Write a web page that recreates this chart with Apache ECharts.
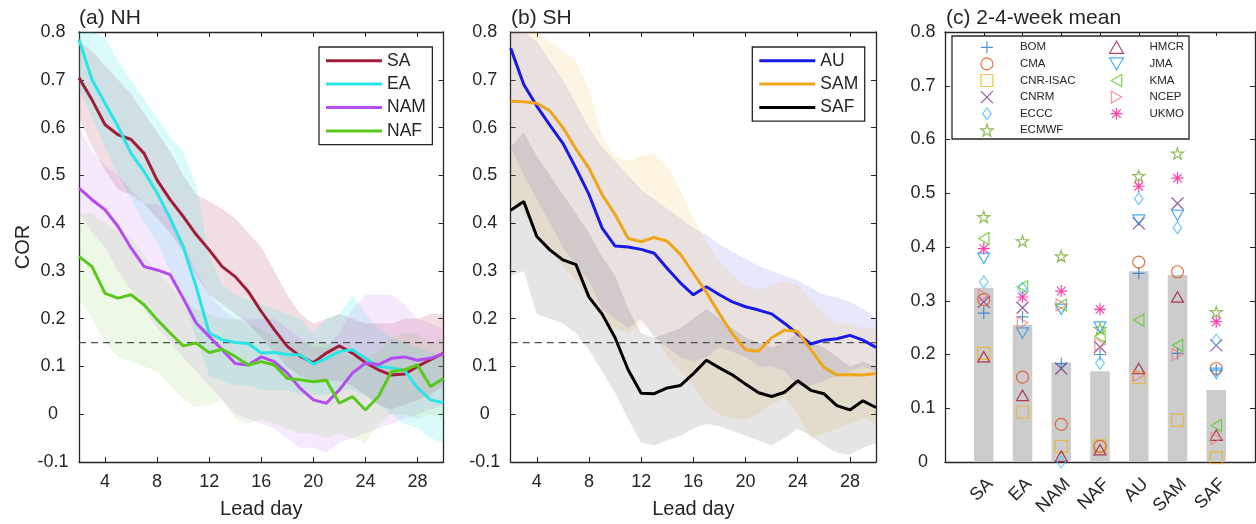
<!DOCTYPE html>
<html><head><meta charset="utf-8">
<script src="https://cdn.jsdelivr.net/npm/echarts@6/dist/echarts.min.js"></script>
<style>html,body{margin:0;padding:0;background:#fff}#c{width:1256px;height:524px}</style>
</head><body><div id="c"></div>
<script>
// ---------- data ----------
const days = [2,3,4,5,6,7,8,9,10,11,12,13,14,15,16,17,18,19,20,21,22,23,24,25,26,27,28,29,30];
const xTicks = [4,8,12,16,20,24,28];
const threshold = 0.15;

// (a) NH
const SA_mean  = [0.704,0.658,0.606,0.585,0.575,0.546,0.490,0.449,0.414,0.376,0.344,0.309,0.288,0.257,0.215,0.177,0.142,0.121,0.108,0.128,0.143,0.128,0.108,0.093,0.082,0.084,0.100,0.114,0.128];
const SA_lo    = [0.62,0.56,0.51,0.47,0.46,0.44,0.41,0.38,0.34,0.29,0.25,0.23,0.21,0.19,0.16,0.13,0.10,0.08,0.07,0.07,0.07,0.06,0.04,0.02,0.01,0.02,0.03,0.04,0.06];
const SA_hi    = [0.78,0.76,0.73,0.70,0.67,0.63,0.59,0.55,0.50,0.46,0.445,0.43,0.41,0.38,0.35,0.30,0.25,0.21,0.19,0.20,0.21,0.20,0.19,0.19,0.19,0.20,0.20,0.21,0.21];
const EA_mean  = [0.784,0.700,0.651,0.602,0.546,0.508,0.463,0.410,0.351,0.267,0.170,0.156,0.150,0.148,0.128,0.129,0.125,0.124,0.105,0.117,0.131,0.135,0.117,0.100,0.097,0.092,0.055,0.030,0.024];
const EA_lo    = [0.68,0.62,0.56,0.50,0.45,0.40,0.36,0.30,0.24,0.16,0.08,0.07,0.06,0.06,0.05,0.05,0.05,0.04,0.04,0.04,0.05,0.05,0.04,0.02,0.00,-0.02,-0.03,-0.05,-0.06];
const EA_hi    = [0.80,0.80,0.79,0.74,0.70,0.66,0.62,0.58,0.55,0.48,0.33,0.27,0.25,0.24,0.23,0.22,0.21,0.20,0.17,0.20,0.21,0.25,0.21,0.18,0.16,0.15,0.14,0.13,0.12];
const NAM_mean = [0.473,0.449,0.428,0.393,0.348,0.309,0.302,0.292,0.243,0.191,0.163,0.135,0.106,0.103,0.120,0.110,0.086,0.054,0.030,0.023,0.051,0.086,0.107,0.104,0.117,0.120,0.113,0.117,0.127];
const NAM_lo   = [0.42,0.38,0.35,0.30,0.26,0.22,0.18,0.15,0.12,0.09,0.06,0.03,0.00,-0.01,-0.02,-0.03,-0.05,-0.07,-0.07,-0.08,-0.06,-0.05,-0.04,-0.03,-0.02,-0.01,0.00,0.01,0.02];
const NAM_hi   = [0.60,0.55,0.52,0.50,0.47,0.44,0.44,0.42,0.36,0.30,0.25,0.22,0.20,0.20,0.20,0.20,0.18,0.16,0.14,0.14,0.17,0.22,0.25,0.25,0.25,0.23,0.20,0.19,0.18];
const NAF_mean = [0.330,0.309,0.253,0.243,0.250,0.229,0.198,0.170,0.143,0.149,0.129,0.136,0.121,0.103,0.110,0.103,0.075,0.072,0.068,0.071,0.023,0.037,0.009,0.037,0.089,0.093,0.103,0.058,0.075];
const NAF_lo   = [0.24,0.20,0.15,0.12,0.11,0.10,0.09,0.06,0.03,0.015,0.02,0.03,-0.01,-0.02,-0.01,-0.02,-0.03,-0.04,-0.04,-0.05,-0.04,-0.05,-0.06,-0.02,0.00,0.00,-0.01,0.00,-0.01];
const NAF_hi   = [0.42,0.42,0.40,0.38,0.37,0.33,0.30,0.27,0.24,0.22,0.21,0.20,0.20,0.19,0.18,0.16,0.15,0.15,0.15,0.15,0.13,0.12,0.12,0.13,0.16,0.17,0.17,0.15,0.16];

// (b) SH
const AU_mean  = [0.766,0.690,0.645,0.605,0.567,0.515,0.460,0.390,0.352,0.350,0.345,0.337,0.305,0.275,0.250,0.267,0.250,0.235,0.225,0.218,0.210,0.190,0.168,0.147,0.155,0.158,0.165,0.155,0.140];
const AU_lo    = [0.56,0.50,0.45,0.40,0.35,0.31,0.28,0.22,0.20,0.18,0.20,0.16,0.14,0.12,0.11,0.12,0.14,0.13,0.12,0.10,0.10,0.09,0.06,0.06,0.07,0.08,0.09,0.10,0.09];
const AU_hi    = [0.80,0.80,0.78,0.74,0.70,0.65,0.60,0.56,0.53,0.50,0.47,0.45,0.43,0.41,0.39,0.375,0.355,0.34,0.325,0.31,0.30,0.29,0.28,0.265,0.25,0.245,0.235,0.22,0.20];
const SAM_mean = [0.655,0.654,0.651,0.635,0.600,0.555,0.515,0.460,0.418,0.368,0.361,0.370,0.362,0.335,0.295,0.255,0.210,0.168,0.135,0.132,0.160,0.176,0.173,0.135,0.098,0.082,0.083,0.082,0.085];
const SAM_lo   = [0.45,0.42,0.38,0.34,0.31,0.28,0.24,0.20,0.18,0.17,0.19,0.17,0.12,0.09,0.06,0.02,0.00,-0.01,-0.01,0.00,0.02,0.035,0.00,-0.05,-0.04,-0.03,-0.02,-0.01,-0.02];
const SAM_hi   = [0.80,0.80,0.80,0.78,0.76,0.74,0.68,0.58,0.54,0.53,0.54,0.545,0.52,0.47,0.41,0.36,0.32,0.29,0.27,0.26,0.27,0.28,0.27,0.24,0.21,0.19,0.19,0.18,0.18];
const SAF_mean = [0.427,0.445,0.372,0.344,0.323,0.313,0.245,0.210,0.160,0.093,0.044,0.043,0.055,0.060,0.085,0.113,0.097,0.082,0.063,0.045,0.037,0.046,0.070,0.050,0.043,0.018,0.009,0.028,0.014];
const SAF_lo   = [0.29,0.30,0.21,0.20,0.19,0.17,0.135,0.09,0.045,-0.01,-0.06,-0.065,-0.055,-0.045,-0.03,-0.02,-0.025,-0.035,-0.045,-0.055,-0.065,-0.05,-0.03,-0.045,-0.065,-0.08,-0.085,-0.07,-0.06];
const SAF_hi   = [0.56,0.59,0.54,0.50,0.46,0.42,0.38,0.33,0.29,0.22,0.17,0.16,0.17,0.18,0.20,0.22,0.20,0.18,0.16,0.15,0.14,0.15,0.17,0.15,0.14,0.12,0.10,0.11,0.10];

// (c) 2-4-week mean
const regions = ['SA','EA','NAM','NAF','AU','SAM','SAF'];
const meanBars = [0.324,0.255,0.185,0.169,0.355,0.348,0.134];
const BOM      = [0.277,0.270,0.183,0.200,0.351,0.202,0.171];
const CMA      = [0.302,0.158,0.070,0.029,0.372,0.354,0.174];
const CNR_ISAC = [0.202,0.093,0.029,0.030,0.157,0.078,0.008];
const CNRM     = [0.298,0.287,0.174,0.214,0.444,0.481,0.217];
const ECCC     = [0.335,0.323,0.000,0.184,0.490,0.436,0.227];
const ECMWF    = [0.456,0.411,0.383,0.248,0.532,0.574,0.279];
const HMCR     = [0.196,0.124,0.011,0.023,0.174,0.307,0.050];
const JMA      = [0.379,0.240,0.284,0.251,0.450,0.459,0.165];
const KMA      = [0.416,0.326,0.292,0.234,0.264,0.217,0.068];
const NCEP     = [0.310,0.259,0.292,0.219,0.161,0.200,0.044];
const UKMO     = [0.397,0.307,0.318,0.284,0.513,0.528,0.261];

// ---------- styling ----------
const FONT = 'Arial, "Liberation Sans", Helvetica, sans-serif';
const AX = '#262626';
const SYM = {
  plus: 'path://M5,0L5,10M0,5L10,5',
  circle: 'path://M10,5A5,5,0,1,1,0,5A5,5,0,1,1,10,5Z',
  square: 'path://M0,0L10,0L10,10L0,10Z',
  cross: 'path://M0,0L10,10M10,0L0,10',
  diamond: 'path://M5,0L10,7L5,14L0,7Z',
  star: 'path://M5,0L6.18,3.62L10,3.62L6.91,5.86L8.09,9.51L5,7.27L1.91,9.51L3.09,5.86L0,3.62L3.82,3.62Z',
  up: 'path://M5,0L10,8.66L0,8.66Z',
  down: 'path://M0,0L10,0L5,8.66Z',
  left: 'path://M0,5L8.66,0L8.66,10Z',
  right: 'path://M0,0L8.66,5L0,10Z',
  aster: 'path://M5,0L5,10M0,5L10,5M1.46,1.46L8.54,8.54M8.54,1.46L1.46,8.54'
};
const models = [
  {name:'BOM', v:BOM, c:'#1F7AC8', s:SYM.plus, z:12},
  {name:'CMA', v:CMA, c:'#D95319', s:SYM.circle, z:12},
  {name:'CNR-ISAC', v:CNR_ISAC, c:'#EDB120', s:SYM.square, z:11},
  {name:'CNRM', v:CNRM, c:'#7E2F8E', s:SYM.cross, z:11},
  {name:'ECCC', v:ECCC, c:'#4DBEEE', s:SYM.diamond, z:14},
  {name:'ECMWF', v:ECMWF, c:'#77AC30', s:SYM.star, z:13},
  {name:'HMCR', v:HMCR, c:'#A2142F', s:SYM.up, z:13},
  {name:'JMA', v:JMA, c:'#1E9BF0', s:SYM.down, z:13},
  {name:'KMA', v:KMA, c:'#55CC22', s:SYM.left, z:13},
  {name:'NCEP', v:NCEP, c:'#F08080', s:SYM.right, z:13},
  {name:'UKMO', v:UKMO, c:'#FF1493', s:SYM.aster, z:13}
];
const catAxis = [''].concat(regions).concat([' ']);
const isReal = (i, v) => regions.indexOf(v) >= 0;

function band(lo, hi, color, alpha, xi, yi) {
  return {
    type: 'custom', xAxisIndex: xi, yAxisIndex: yi, z: 1, silent: true, clip: true,
    data: days.map((d, i) => [d, lo[i], hi[i]]),
    encode: {x: 0, y: [1, 2]},
    renderItem: function (params, api) {
      if (params.dataIndex !== 0) return null;
      const pts = [];
      for (let i = 0; i < days.length; i++) pts.push(api.coord([days[i], hi[i]]));
      for (let i = days.length - 1; i >= 0; i--) pts.push(api.coord([days[i], lo[i]]));
      return {type: 'polygon', shape: {points: pts}, style: {fill: color, opacity: alpha}};
    }
  };
}
function line(name, vals, color, xi, yi) {
  return {type: 'line', name: name, xAxisIndex: xi, yAxisIndex: yi, z: 4, silent: true,
    data: days.map((d, i) => [d, vals[i]]), symbol: 'none',
    lineStyle: {width: 3, color: color}, itemStyle: {color: color}};
}
function dashed(xi, yi) {
  return {type: 'line', xAxisIndex: xi, yAxisIndex: yi, z: 3, silent: true, symbol: 'none',
    data: [[days[0], threshold], [days[days.length - 1], threshold]],
    lineStyle: {width: 1.3, color: '#505050', type: [7, 5]}};
}
function valX(gi, top) {
  return {type: 'value', gridIndex: gi, position: top ? 'top' : 'bottom', min: 2, max: 30,
    axisLine: {onZero: false, lineStyle: {color: AX, width: 1.3}},
    axisTick: {show: true, inside: true, length: 5, customValues: xTicks, lineStyle: {color: AX}},
    axisLabel: {show: !top, customValues: xTicks, color: AX, fontSize: 18, fontFamily: FONT, margin: 11},
    splitLine: {show: false},
    name: top ? '' : 'Lead day', nameLocation: 'middle', nameGap: 37,
    nameTextStyle: {color: AX, fontSize: 20, fontFamily: FONT}};
}
function valY(gi, right, min, name) {
  return {type: 'value', gridIndex: gi, position: right ? 'right' : 'left', min: min, max: 0.8, interval: 0.1,
    axisLine: {show: true, onZero: false, lineStyle: {color: AX, width: 1.3}},
    axisTick: {show: true, inside: true, length: 5, lineStyle: {color: AX}},
    axisLabel: {show: !right, color: AX, fontSize: 18, fontFamily: FONT, align: 'center', margin: min < 0 ? 26 : 22},
    splitLine: {show: false},
    name: name || '', nameLocation: 'middle', nameGap: 42, nameRotate: 90,
    nameTextStyle: {color: AX, fontSize: 20, fontFamily: FONT}};
}
function catX(top) {
  return {type: 'category', gridIndex: 2, position: top ? 'top' : 'bottom', data: catAxis, boundaryGap: false,
    axisLine: {onZero: false, lineStyle: {color: AX, width: 1.3}},
    axisTick: {show: true, inside: true, length: 4, interval: isReal, lineStyle: {color: AX}},
    axisLabel: {show: !top, interval: isReal, rotate: 45, verticalAlign: 'top', margin: 13,
      color: AX, fontSize: 18, fontFamily: FONT},
    splitLine: {show: false}};
}

const lineLegend = (names, left) => ({
  data: names, icon: 'rect', orient: 'vertical', left: left, top: 47, itemWidth: 56, itemHeight: 3, itemGap: 3.4,
  padding: [3.7, 6.5, 3.7, 7], borderColor: AX, borderWidth: 1.3, backgroundColor: '#fff',
  selectedMode: false,
  textStyle: {fontSize: 17.5, lineHeight: 20, color: AX, fontFamily: FONT}
});
const markLegend = (names, left) => ({
  data: names.map(n => ({name: n, icon: models.find(m => m.name === n).s})),
  orient: 'vertical', left: left, top: 40.7, itemWidth: 56, itemHeight: 12, itemGap: 3.4, padding: 0,
  selectedMode: false, itemStyle: {borderWidth: 1.2}, z: 6,
  textStyle: {fontSize: 11.5, lineHeight: 12, color: AX, fontFamily: FONT}
});

const series = [
  band(SA_lo, SA_hi, '#A2142F', 0.14, 0, 0),
  band(EA_lo, EA_hi, '#00E5E5', 0.14, 0, 0),
  band(NAM_lo, NAM_hi, '#B44CF0', 0.12, 0, 0),
  band(NAF_lo, NAF_hi, '#5BC81E', 0.11, 0, 0),
  dashed(0, 0),
  line('SA', SA_mean, '#A01F38', 0, 0),
  line('EA', EA_mean, '#2AE5E8', 0, 0),
  line('NAM', NAM_mean, '#B44CF0', 0, 0),
  line('NAF', NAF_mean, '#5BC81E', 0, 0),
  band(AU_lo, AU_hi, '#3030F0', 0.11, 2, 2),
  band(SAM_lo, SAM_hi, '#EFB030', 0.14, 2, 2),
  band(SAF_lo, SAF_hi, '#000000', 0.1, 2, 2),
  dashed(2, 2),
  line('AU', AU_mean, '#1A1AE6', 2, 2),
  line('SAM', SAM_mean, '#EFA51C', 2, 2),
  line('SAF', SAF_mean, '#000000', 2, 2),
  {type: 'bar', xAxisIndex: 4, yAxisIndex: 4, barWidth: 19.5, z: 2, silent: true,
   data: regions.map((r, i) => [r, meanBars[i]]), itemStyle: {color: '#CCCCCC'}}
].concat(models.map(m => ({
  type: 'scatter', name: m.name, xAxisIndex: 4, yAxisIndex: 4, z: m.z, silent: true,
  symbol: m.s, symbolSize: 12, symbolKeepAspect: true,
  data: regions.map((r, i) => [r, m.v[i]]),
  itemStyle: {color: 'rgba(0,0,0,0)', borderColor: m.c, borderWidth: 1.2}
})));

const option = {
  animation: false,
  textStyle: {fontFamily: FONT},
  title: [
    {text: '(a) NH', left: 79, top: 8, padding: 0, textStyle: {fontSize: 21, fontWeight: 'normal', color: AX, fontFamily: FONT}},
    {text: '(b) SH', left: 511, top: 8, padding: 0, textStyle: {fontSize: 21, fontWeight: 'normal', color: AX, fontFamily: FONT}},
    {text: '(c) 2-4-week mean', left: 946, top: 8, padding: 0, textStyle: {fontSize: 21, fontWeight: 'normal', color: AX, fontFamily: FONT}}
  ],
  grid: [
    {left: 79, top: 32, width: 364.5, height: 430},
    {left: 510.7, top: 32, width: 365.3, height: 430},
    {left: 945, top: 32, width: 310, height: 430}
  ],
  xAxis: [valX(0, false), valX(0, true), valX(1, false), valX(1, true), catX(false), catX(true)],
  yAxis: [valY(0, false, -0.1, 'COR'), valY(0, true, -0.1), valY(1, false, -0.1), valY(1, true, -0.1),
          valY(2, false, 0), valY(2, true, 0)],
  legend: [
    lineLegend(['SA', 'EA', 'NAM', 'NAF'], 319),
    lineLegend(['AU', 'SAM', 'SAF'], 752.3),
    markLegend(['BOM', 'CMA', 'CNR-ISAC', 'CNRM', 'ECCC', 'ECMWF'], 980),
    markLegend(['HMCR', 'JMA', 'KMA', 'NCEP', 'UKMO'], 1109)
  ],
  graphic: [{type: 'rect', shape: {x: 952, y: 36, width: 237, height: 103}, z: 5,
    style: {fill: '#fff', stroke: AX, lineWidth: 1.3}}],
  series: series
};
const chart = echarts.init(document.getElementById('c'), null, {renderer: 'canvas'});
chart.setOption(option);
</script></body></html>
